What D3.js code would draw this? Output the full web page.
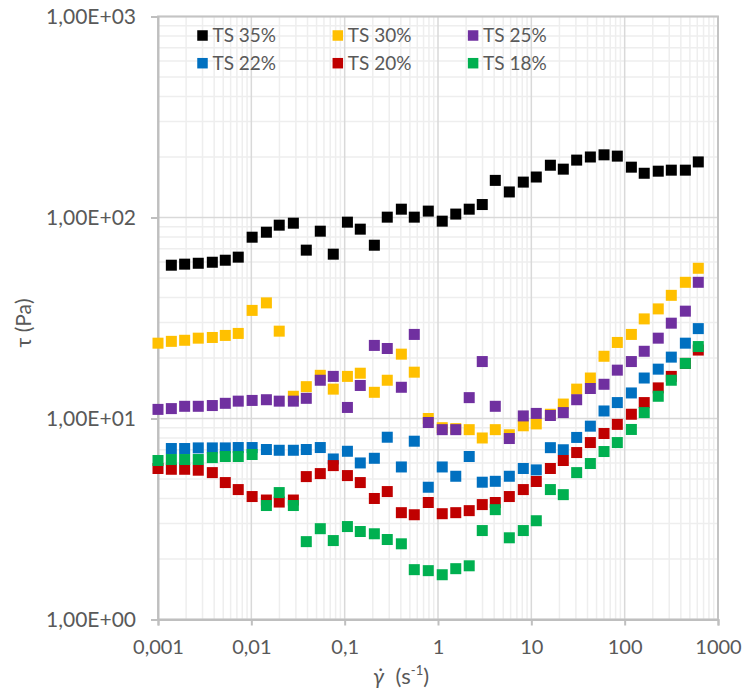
<!DOCTYPE html>
<html>
<head>
<meta charset="utf-8">
<script src="https://cdn.jsdelivr.net/npm/d3@7"></script>
<style>
  body { margin: 0; background: #fff; }
  text { font-family: Lato, "Liberation Sans", sans-serif; fill: #595959; }
</style>
</head>
<body>
<div id="chart"></div>
<script>
// shear rate (1/s), shared by all series
const shearRate = [0.001, 0.00139, 0.00193, 0.0027, 0.00382, 0.00526, 0.00724, 0.0102, 0.0145, 0.0199,
  0.0282, 0.0388, 0.0548, 0.0755, 0.107, 0.147, 0.208, 0.286, 0.405, 0.557,
  0.787, 1.11, 1.55, 2.16, 2.98, 4.11, 5.81, 8.2, 11.3, 16.0,
  22.0, 30.6, 42.9, 60.1, 83.4, 118, 162, 229, 316, 447, 615]

// shear stress (Pa)
const ts35 = [null, 57.9, 58.6, 59.2, 59.9, 61.3, 63.5, 79.8, 84.5, 91.6,
  93.7, 68.8, 85.5, 65.7, 94.8, 87.5, 72.8, 100.4, 110, 100.4,
  107.6, 95.9, 104, 110, 116, 153, 134, 150, 159, 182,
  174, 193, 200, 205, 202, 178, 166, 170, 172, 172, 189]
const ts30 = [23.7, 24.2, 24.5, 25.1, 25.3, 25.9, 26.5, 34.5, 37.6, 27.2,
  12.9, 14.4, 16.4, 14.0, 16.2, 16.8, 13.5, 15.5, 20.9, 17.0,
  10.0, 9.0, 8.9, 8.8, 8.0, 8.8, 8.3, 9.2, 9.4, 10.5,
  11.8, 14.0, 15.9, 20.4, 23.9, 26.2, 31.3, 35.1, 41.0, 47.6, 55.9]
const ts25 = [11.1, 11.2, 11.5, 11.5, 11.6, 11.9, 12.2, 12.3, 12.4, 12.2,
  12.2, 12.6, 15.5, 16.2, 11.35, 14.6, 23.1, 22.3, 14.3, 26.2,
  9.55, 8.8, 8.8, 12.7, 19.2, 11.5, 7.95, 10.3, 10.6, 10.35,
  10.7, 12.4, 14.1, 14.8, 17.4, 19.2, 21.6, 25.1, 29.8, 34.2, 47.6]
const ts22 = [null, 7.09, 7.09, 7.14, 7.14, 7.14, 7.17, 7.17, 7.01, 6.95,
  6.95, 7.01, 7.17, 6.29, 6.87, 6.01, 6.34, 8.07, 5.74, 7.71,
  4.55, 5.74, 5.16, 6.47, 4.82, 4.87, 5.16, 5.64, 5.55, 7.16,
  6.99, 8.05, 9.16, 10.9, 12.0, 13.4, 15.9, 17.6, 20.2, 23.7, 28.0]
const ts20 = [5.64, 5.59, 5.59, 5.53, 5.38, 4.80, 4.43, 4.09, 3.93, 3.84,
  3.93, 5.14, 5.32, 5.83, 5.20, 4.80, 4.00, 4.33, 3.40, 3.32,
  3.82, 3.36, 3.40, 3.48, 3.73, 3.82, 4.09, 4.43, 4.86, 5.64,
  6.18, 6.77, 7.59, 8.42, 9.35, 10.5, 12.0, 14.2, 16.2, 18.8, 21.9]
const ts18 = [6.18, 6.25, 6.25, 6.25, 6.39, 6.47, 6.47, 6.62, 3.69, 4.28,
  3.69, 2.44, 2.83, 2.47, 2.90, 2.74, 2.67, 2.50, 2.38, 1.77,
  1.75, 1.67, 1.79, 1.85, 2.77, 3.52, 2.55, 2.77, 3.10, 4.43,
  4.18, 5.38, 5.97, 6.85, 7.59, 8.82, 10.7, 12.9, 15.5, 18.8, 22.8]

const seriesNames = ['TS 35%', 'TS 30%', 'TS 25%', 'TS 22%', 'TS 20%', 'TS 18%']
const seriesValues = [ts35, ts30, ts25, ts22, ts20, ts18]
const seriesColors = ['#000000', '#ffc000', '#7030a0', '#0070c0', '#c00000', '#00b050']

const xTickValues = [0.001, 0.01, 0.1, 1, 10, 100, 1000]
const xTickLabels = ['0,001', '0,01', '0,1', '1', '10', '100', '1000']
const yTickValues = [1, 10, 100, 1000]
const yTickLabels = ['1,00E+00', '1,00E+01', '1,00E+02', '1,00E+03']

const fullWidth = 744, fullHeight = 691
const plot = { left: 158, right: 718, top: 16.5, bottom: 619.5 }

const svg = d3.select('#chart')
  .append('svg')
    .attr('width', fullWidth)
    .attr('height', fullHeight)

const x = d3.scaleLog().domain([0.001, 1000]).range([plot.left, plot.right])
const y = d3.scaleLog().domain([1, 1000]).range([plot.bottom, plot.top])

// minor + major gridlines
const grid = svg.append('g')
const xMinor = x.ticks().filter(v => !xTickValues.some(t => Math.abs(t - v) / t < 1e-6))
const yMinor = y.ticks().filter(v => !yTickValues.some(t => Math.abs(t - v) / t < 1e-6))

grid.selectAll('.xminor').data(xMinor).enter().append('line')
  .attr('x1', d => x(d)).attr('x2', d => x(d))
  .attr('y1', plot.top).attr('y2', plot.bottom)
  .attr('stroke', '#eeeeee').attr('stroke-width', 1.5)
grid.selectAll('.yminor').data(yMinor).enter().append('line')
  .attr('y1', d => y(d)).attr('y2', d => y(d))
  .attr('x1', plot.left).attr('x2', plot.right)
  .attr('stroke', '#eeeeee').attr('stroke-width', 1.5)
grid.selectAll('.xmajor').data(xTickValues).enter().append('line')
  .attr('x1', d => x(d)).attr('x2', d => x(d))
  .attr('y1', plot.top).attr('y2', plot.bottom)
  .attr('stroke', '#d9d9d9').attr('stroke-width', 1.5)
grid.selectAll('.ymajor').data(yTickValues).enter().append('line')
  .attr('y1', d => y(d)).attr('y2', d => y(d))
  .attr('x1', plot.left).attr('x2', plot.right)
  .attr('stroke', '#d9d9d9').attr('stroke-width', 1.5)

// plot border
svg.append('rect')
  .attr('x', plot.left).attr('y', plot.top)
  .attr('width', plot.right - plot.left).attr('height', plot.bottom - plot.top)
  .attr('fill', 'none').attr('stroke', '#c4c4c4').attr('stroke-width', 2)

// axes
const xAxis = svg.append('g')
  .attr('transform', `translate(0, ${plot.bottom})`)
  .call(d3.axisBottom(x).tickValues(xTickValues).tickSize(6).tickPadding(14)
    .tickFormat((d, i) => xTickLabels[i]))
xAxis.select('.domain').attr('stroke', '#bfbfbf').attr('stroke-width', 2)
xAxis.selectAll('.tick line').attr('stroke', '#bfbfbf').attr('stroke-width', 2)
xAxis.selectAll('.tick text').attr('font-size', 20).attr('fill', '#595959')
  .attr('font-family', 'Lato, sans-serif')

const yAxis = svg.append('g')
  .attr('transform', `translate(${plot.left}, 0)`)
  .call(d3.axisLeft(y).tickValues(yTickValues).tickSize(7).tickPadding(15)
    .tickFormat((d, i) => yTickLabels[i]))
yAxis.select('.domain').attr('stroke', '#bfbfbf').attr('stroke-width', 2)
yAxis.selectAll('.tick line').attr('stroke', '#bfbfbf').attr('stroke-width', 2)
yAxis.selectAll('.tick text').attr('font-size', 21).attr('fill', '#595959')
  .attr('font-family', 'Lato, sans-serif')

// markers
const size = 11
seriesValues.forEach((vals, s) => {
  const pts = vals.map((v, i) => ({ x: shearRate[i], y: v })).filter(d => d.y != null)
  svg.append('g')
    .selectAll('rect')
    .data(pts)
    .enter()
    .append('rect')
      .attr('x', d => x(d.x) - size / 2)
      .attr('y', d => y(d.y) - size / 2)
      .attr('width', size)
      .attr('height', size)
      .attr('fill', seriesColors[s])
})

// legend
const legend = svg.append('g')
seriesNames.forEach((name, i) => {
  const cx = 202.5 + (i % 3) * 135.3
  const cy = 35.5 + Math.floor(i / 3) * 27.7
  legend.append('rect')
    .attr('x', cx - 5.25).attr('y', cy - 5.25)
    .attr('width', 10.5).attr('height', 10.5)
    .attr('fill', seriesColors[i])
  legend.append('text')
    .attr('x', cx + 10).attr('y', cy)
    .attr('dy', '0.35em')
    .attr('font-size', 19)
    .text(name)
})

// axis titles
const xt = svg.append('text')
  .attr('x', 373).attr('y', 684)
  .attr('font-size', 22)
xt.append('tspan').attr('font-style', 'italic').text('γ̇')
xt.append('tspan').text('\u00a0\u00a0(s')
xt.append('tspan').attr('font-size', 13).attr('dy', -9).text('-1')
xt.append('tspan').attr('dy', 9).text(')')

svg.append('text')
  .attr('transform', 'translate(31, 323) rotate(-90)')
  .attr('text-anchor', 'middle')
  .attr('font-size', 21)
  .text('τ (Pa)')
</script>
</body>
</html>
